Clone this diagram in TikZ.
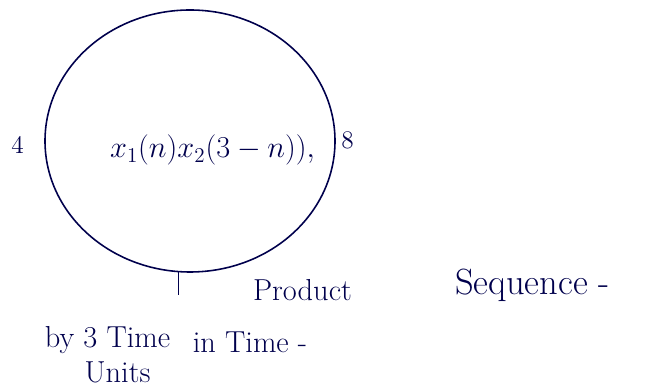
\documentclass[tikz,border=0pt]{standalone}
\usetikzlibrary{calc}
\usetikzlibrary{shapes.geometric}
\tikzset{
  pen/.style={draw=blue!30!black, line width=0.9pt},
  note/.style={text=blue!30!black, font=\Large, inner sep=1pt}
}

\begin{document}
\begin{tikzpicture}[x=1cm,y=1cm]
    % Page frame
    \useasboundingbox (0,0) rectangle (13.1,7.8);

    % The big circle with the product inside
    \node[pen, ellipse, minimum width=5.8cm, minimum height=5.24cm] (prod) at (3.8,4.98) {};
    \node[note, font=\LARGE] (expr) at (4.25,4.8) {$x_1(n)x_2(3-n)),$};

    % Side labels
    \node[note] (left) at (0.35,4.9) {4};
    \node[note] (right) at (6.95,5.0) {8};

    % Tick below the circle
    \coordinate (tick) at ($(prod.-95)+(0,-0.45)$);
    \draw[pen] (prod.-95) -- (tick);

    % Notes under the circle
    \node[note, font=\LARGE] (product) at (6.05,2.0) {Product};
    \node[note, font=\huge] (sequence) at (10.65,2.1) {Sequence -};
    \node[note, font=\LARGE] (by) at (2.15,1.0) {by 3 Time};
    \node[note, font=\LARGE] (intime) at (5.0,0.95) {in Time -};
    \node[note, font=\LARGE] (units) at (2.35,0.35) {Units};
\end{tikzpicture}
\end{document}
